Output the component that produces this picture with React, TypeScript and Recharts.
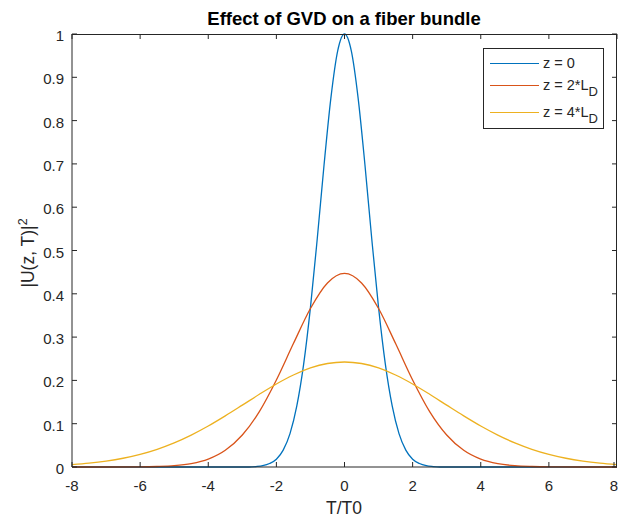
import React from 'react';
import { LineChart, Line, XAxis, YAxis } from 'recharts';

// pulse |U(z,T)|^2
const tBlue = [-8, -3, -2.8, -2.6, -2.4, -2.2, -2, -1.8, -1.6, -1.4, -1.2, -1, -0.8, -0.6, -0.4, -0.2, 0, 0.2, 0.4, 0.6, 0.8, 1, 1.2, 1.4, 1.6, 1.8, 2, 2.2, 2.4, 2.6, 2.8, 3, 8];
const uBlue = [0, 0, 0, 0.001, 0.003, 0.008, 0.018, 0.039, 0.077, 0.141, 0.237, 0.368, 0.527, 0.698, 0.852, 0.961, 1, 0.961, 0.852, 0.698, 0.527, 0.368, 0.237, 0.141, 0.077, 0.039, 0.018, 0.008, 0.003, 0.001, 0, 0, 0];

const tRed = [-8, -7, -6, -5.5, -5, -4.5, -4, -3.5, -3, -2.5, -2, -1.5, -1, -0.5, 0, 0.5, 1, 1.5, 2, 2.5, 3, 3.5, 4, 4.5, 5, 5.5, 6, 7, 8];
const uRed = [0, 0, 0.0003, 0.0011, 0.003, 0.0078, 0.0182, 0.0386, 0.0739, 0.128, 0.201, 0.285, 0.366, 0.425, 0.447, 0.425, 0.366, 0.285, 0.201, 0.128, 0.0739, 0.0386, 0.0182, 0.0078, 0.003, 0.0011, 0.0003, 0, 0];

const tYellow = [-8, -7.5, -7, -6.5, -6, -5.5, -5, -4.5, -4, -3.5, -3, -2.5, -2, -1.5, -1, -0.5, 0, 0.5, 1, 1.5, 2, 2.5, 3, 3.5, 4, 4.5, 5, 5.5, 6, 6.5, 7, 7.5, 8];
const uYellow = [0.0056, 0.0089, 0.0136, 0.0202, 0.0292, 0.0409, 0.0557, 0.0737, 0.0946, 0.118, 0.1428, 0.1679, 0.1917, 0.2124, 0.2287, 0.239, 0.2425, 0.239, 0.2287, 0.2124, 0.1917, 0.1679, 0.1428, 0.118, 0.0946, 0.0737, 0.0557, 0.0409, 0.0292, 0.0202, 0.0136, 0.0089, 0.0056];

const xTicks = [-8, -6, -4, -2, 0, 2, 4, 6, 8];
const yTicks = [0, 0.1, 0.2, 0.3, 0.4, 0.5, 0.6, 0.7, 0.8, 0.9, 1];

const seriesNames = ['z = 0', 'z = 2*L', 'z = 4*L'];
const colors = ['#0072BD', '#D95319', '#EDB120'];

const toRows = (t: number[], u: number[]) => t.map((x, i) => ({ t: x, u: u[i] }));

const axisColor = '#262626';
const font = '"Liberation Sans", Arial, Helvetica, sans-serif';

const W = 618, H = 517;
const M = { top: 34, right: 1, left: 72, bottom: 50 };
const X_MIN = -8, X_MAX = 8, Y_MIN = 0, Y_MAX = 1;
const plotL = M.left, plotR = W - M.right, plotT = M.top, plotB = H - M.bottom;
const px = (v: number) => plotL + ((v - X_MIN) / (X_MAX - X_MIN)) * (plotR - plotL);
const py = (v: number) => plotB - ((v - Y_MIN) / (Y_MAX - Y_MIN)) * (plotB - plotT);

const BottomTick = (props: any) => {
    const { x, y, payload } = props;
    return (
        <g>
            <line x1={x} x2={x} y1={y} y2={y - 5} stroke={axisColor} />
            <text x={x} y={y + 24} textAnchor="middle" fill={axisColor} fontSize={15} fontFamily={font}>
                {payload.value}
            </text>
        </g>
    );
};

const LeftTick = (props: any) => {
    const { x, y, payload } = props;
    return (
        <g>
            <line x1={x} x2={x + 5} y1={y} y2={y} stroke={axisColor} />
            <text x={x - 8} y={y + 7} textAnchor="end" fill={axisColor} fontSize={15} fontFamily={font}>
                {payload.value}
            </text>
        </g>
    );
};

const rowCenters = [14, 36, 63];

const LegendBox = () => (
    <div
        style={{
            position: 'absolute',
            left: 483,
            top: 48,
            width: 119,
            height: 79,
            border: `1px solid ${axisColor}`,
            background: '#fff',
            fontFamily: font,
            fontSize: 14.5,
            color: axisColor,
        }}
    >
        {seriesNames.map((name, i) => (
            <div key={name} style={{ position: 'absolute', left: 0, top: rowCenters[i] - 9, height: 18, width: 119 }}>
                <span style={{ position: 'absolute', left: 6, top: 9, width: 49, height: 0, borderTop: `1px solid ${colors[i]}` }} />
                <span style={{ position: 'absolute', left: 59, top: 0, lineHeight: '18px', whiteSpace: 'nowrap' }}>
                    {name}
                    {i > 0 && <span style={{ position: 'relative', top: 6, fontSize: 13 }}>D</span>}
                </span>
            </div>
        ))}
    </div>
);

export default function App() {
    return (
        <div style={{ position: 'absolute', left: 0, top: 0, width: W, height: H, background: '#fff', overflow: 'hidden' }}>
            <LineChart width={W} height={H} margin={{ top: M.top, right: M.right, bottom: 0, left: 0 }}>
                <XAxis
                    dataKey="t"
                    type="number"
                    domain={[X_MIN, X_MAX]}
                    ticks={xTicks}
                    height={M.bottom}
                    stroke={axisColor}
                    tickSize={0}
                    tickMargin={0}
                    tick={<BottomTick />}
                    allowDuplicatedCategory={false}
                />
                <YAxis
                    type="number"
                    domain={[Y_MIN, Y_MAX]}
                    ticks={yTicks}
                    width={M.left}
                    stroke={axisColor}
                    tickSize={0}
                    tickMargin={0}
                    tick={<LeftTick />}
                />
                <Line
                    data={toRows(tBlue, uBlue)}
                    dataKey="u"
                    name={seriesNames[0]}
                    type="monotone"
                    stroke={colors[0]}
                    strokeWidth={1.3}
                    dot={false}
                    isAnimationActive={false}
                />
                <Line
                    data={toRows(tRed, uRed)}
                    dataKey="u"
                    name={seriesNames[1]}
                    type="monotone"
                    stroke={colors[1]}
                    strokeWidth={1.3}
                    dot={false}
                    isAnimationActive={false}
                />
                <Line
                    data={toRows(tYellow, uYellow)}
                    dataKey="u"
                    name={seriesNames[2]}
                    type="monotone"
                    stroke={colors[2]}
                    strokeWidth={1.3}
                    dot={false}
                    isAnimationActive={false}
                />
            </LineChart>
            {/* box frame: top and right edges with inward ticks */}
            <div style={{ position: 'absolute', left: plotL, top: plotT, width: plotR - plotL, height: 0, borderTop: `1px solid ${axisColor}` }} />
            <div style={{ position: 'absolute', left: plotR - 1, top: plotT, width: 0, height: plotB - plotT, borderLeft: `1px solid ${axisColor}` }} />
            <svg width={W} height={H} style={{ position: 'absolute', left: 0, top: 0, pointerEvents: 'none' }}>
                {xTicks.map((t) => (
                    <line key={`tx${t}`} x1={px(t)} x2={px(t)} y1={plotT} y2={plotT + 5} stroke={axisColor} />
                ))}
                {yTicks.map((v) => (
                    <line key={`ty${v}`} x1={plotR} x2={plotR - 5} y1={py(v)} y2={py(v)} stroke={axisColor} />
                ))}
                <text x={344} y={25} textAnchor="middle" fontWeight="bold" fontSize={18.5} fontFamily={font} fill="#000">
                    Effect of GVD on a fiber bundle
                </text>
                <text x={344} y={514} textAnchor="middle" fontSize={17.5} fontFamily={font} fill={axisColor}>
                    T/T0
                </text>
                <text x={34} y={253} transform="rotate(-90 34 253)" textAnchor="middle" fontSize={17.5} fontFamily={font} fill={axisColor}>
                    |U(z, T)|
                    <tspan dy={-7} fontSize={12.5}>2</tspan>
                </text>
            </svg>
            <LegendBox />
        </div>
    );
}
